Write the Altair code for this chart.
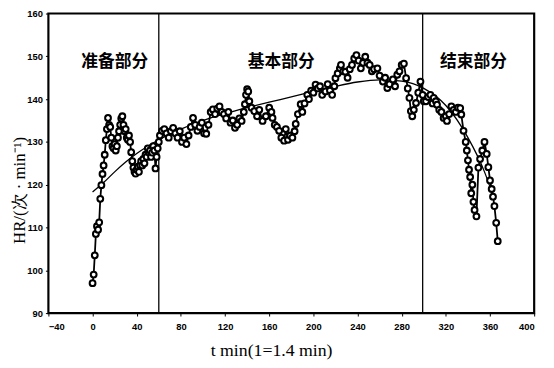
import altair as alt
import pandas as pd

# Heart-rate series (t index, HR)
t_vals = [0, 1, 2, 3, 4, 5, 6, 7, 8, 9, 10, 11, 12, 13, 14, 15, 16, 17, 18, 19,
          20, 21, 22, 23, 24, 25, 26, 27, 28, 29, 30, 31, 32, 33, 34, 35, 36, 37, 38, 39,
          40, 41, 42, 43, 44, 45, 46, 47, 48, 49, 50, 51, 52, 53, 54, 55, 56, 57, 58, 59,
          60, 61, 63, 65, 67, 69, 71, 73, 75, 77, 79, 81, 83, 85, 87, 89, 91, 93, 95, 97,
          99, 101, 103, 105, 107, 109, 111, 113, 115, 117, 119, 121, 123, 125, 127, 129, 131, 133, 135, 137,
          138, 139, 140, 141, 142, 144, 146.5, 149, 151, 154, 157, 160, 162, 163, 165, 167, 169, 171, 173.5, 175,
          177, 179, 181, 183, 184, 186, 188.5, 190, 192, 194.5, 196, 198, 200, 202, 204, 206, 208, 211, 213, 215,
          217, 219, 220, 222, 224, 225, 227, 229, 231, 233, 235, 237, 239, 241, 243, 245, 247, 249, 251, 253,
          255, 258, 260, 263, 265, 267, 269, 272, 274, 276, 278, 280, 282, 284, 285.5, 287, 288.3, 289.6, 291, 293,
          295, 297, 299, 300, 302, 304, 306, 308, 309, 311, 312, 314, 316, 318, 320, 321, 323, 325, 327, 329,
          331, 333, 334, 336, 338, 339, 340, 341, 342, 343, 344, 345, 346, 347.7, 349.5, 351, 353, 355, 357, 358.5,
          360, 361.5, 362.7, 364, 365.6, 367]
hr_vals = [97, 99, 103.5, 108.5, 110.3, 109.5, 111.2, 116.7, 119.9, 122.5, 124.5, 127, 130.4, 133, 135.6, 134, 133.5, 131, 129, 128.5,
           129.5, 128, 129, 131, 132.5, 134, 135.5, 136, 134, 132.5, 133, 131, 130.5, 131.5, 130, 127.6, 125.5, 124, 123, 122.6,
           123.5, 124.2, 123, 124.5, 125.5, 124.5, 126, 125, 127, 126.5, 128.5, 127.5, 128, 126.5, 127.5, 129, 128, 123.8, 126.5, 128.5,
           130, 131.5, 132.6, 133, 132, 131, 132.5, 133.3, 132, 131, 132.5, 130, 131, 129.5, 131.5, 133.5, 135.6, 134, 132.6, 133.5,
           134.5, 132, 131.9, 134, 137, 137.6, 136.5, 137.8, 138.3, 137, 136.5, 135.5, 137, 134.5, 135, 133.3, 134, 135.5, 134.9, 137,
           138.8, 141, 142.3, 141.8, 139.5, 138, 137.2, 136, 137.5, 134.9, 136, 138, 137, 135.6, 134, 133.5, 132.6, 131, 130.3, 133,
           130.5, 131.5, 131, 132.5, 134.2, 136.5, 138.8, 137, 139, 141, 140, 142, 141.5, 143.4, 142.5, 143, 141, 141.8, 143.5, 142,
           141, 143, 144.9, 146, 147.2, 148, 146.5, 146.4, 145, 147, 148, 149.5, 150.3, 149, 147.2, 148.5, 149.9, 148.5, 148, 146.5,
           147, 147.2, 145.5, 144.1, 145, 142.6, 143.5, 144.6, 143, 145.7, 146.5, 148, 148.3, 144.9, 142.5, 140.3, 137.2, 136, 137.5, 139.1,
           141.5, 144.1, 141, 139.5, 139.5, 140.5, 141, 139, 140.3, 139.5, 138.7, 137.5, 137, 135.6, 136, 134.9, 136.5, 138.3, 137.5, 137,
           138, 137.9, 136.4, 132.6, 130, 128, 125.7, 123.5, 121.8, 118, 120, 116, 114.1, 112.6, 124, 126, 128, 130, 127.2, 124.1,
           121, 119, 117.2, 115, 111.1, 106.8]

# Fitted trend curve
fit_t = [0, 10, 20, 30, 40, 50, 60, 80, 100, 120, 140, 160, 180, 200, 220, 240, 260, 280, 300, 320, 340, 355, 362]
fit_hr = [118.3, 120.5, 123, 125.3, 127.3, 129, 130.5, 133, 135, 136.6, 138, 139.3, 140.5, 141.8, 143, 144, 144.5, 144.2, 142.5, 138.5, 131, 123, 118]

# Phase boundaries and labels
bound_t = [60, 299]
phase_labels = ["准备部分", "基本部分", "结束部分"]
phase_t = [20, 171, 345]
phase_hr = [148.7, 148.7, 148.7]

x_ticks = [-40, 0, 40, 80, 120, 160, 200, 240, 280, 320, 360, 400]
y_ticks = [90, 100, 110, 120, 130, 140, 150, 160]

df = pd.DataFrame({"t": t_vals, "hr": hr_vals, "o": list(range(len(t_vals)))})
fit = pd.DataFrame({"t": fit_t, "hr": fit_hr})
bounds = pd.DataFrame({"t": bound_t})
labels = pd.DataFrame({"t": phase_t, "hr": phase_hr, "label": phase_labels})

xs = alt.Scale(domain=[-40, 400], nice=False, zero=False)
ys = alt.Scale(domain=[90, 160], nice=False, zero=False)

x_axis = alt.Axis(values=x_ticks, title="t min(1=1.4 min)", titleFont="Liberation Serif",
                  titleFontSize=18, titleFontWeight="normal", titleX=226, titleY=38,
                  titleBaseline="middle", titleAlign="center",
                  labelFont="Liberation Sans", labelFontWeight="bold", labelFontSize=9.5,
                  labelPadding=6, tickSize=3, tickColor="black", domain=False, grid=False,
                  labelColor="black", titleColor="black")
y_axis = alt.Axis(values=y_ticks, title="HR/(次 · min⁻¹)", titleFont="Liberation Serif",
                  titleFontSize=17, titleFontWeight="normal", titleX=-29, titleY=179,
                  titleBaseline="middle", titleAlign="center", titleAngle=270,
                  labelFont="Liberation Sans", labelFontWeight="bold", labelFontSize=9.5,
                  labelPadding=3, tickSize=3, tickColor="black", domain=False, grid=False,
                  labelColor="black", titleColor="black")

curve = alt.Chart(fit).mark_line(color="black", strokeWidth=1.3, interpolate="monotone").encode(
    x=alt.X("t:Q", scale=xs, axis=x_axis),
    y=alt.Y("hr:Q", scale=ys, axis=y_axis),
)

rules = alt.Chart(bounds).mark_rule(color="black", strokeWidth=1.3).encode(x=alt.X("t:Q", scale=xs))

line = alt.Chart(df).mark_line(color="black", strokeWidth=1.8).encode(
    x=alt.X("t:Q", scale=xs), y=alt.Y("hr:Q", scale=ys), order="o:Q")

pts = alt.Chart(df).mark_point(shape="circle", size=34, filled=False, fill="white",
                               fillOpacity=1, stroke="black", strokeWidth=2.1, opacity=1).encode(
    x=alt.X("t:Q", scale=xs), y=alt.Y("hr:Q", scale=ys))

txt = alt.Chart(labels).mark_text(font="Noto Sans CJK SC", fontSize=17, fontWeight="bold",
                                  color="black").encode(
    x=alt.X("t:Q", scale=xs), y=alt.Y("hr:Q", scale=ys), text="label:N")

chart = alt.layer(curve, rules, line, pts, txt).properties(
    width=493, height=304,
    autosize=alt.AutoSizeParams(type="none"),
    padding={"left": 41, "top": 3, "right": 12, "bottom": 45},
    background="white",
).configure_view(stroke="black", strokeWidth=2.2)

chart.save("out.html", embed_options={"renderer": "svg", "actions": False})
